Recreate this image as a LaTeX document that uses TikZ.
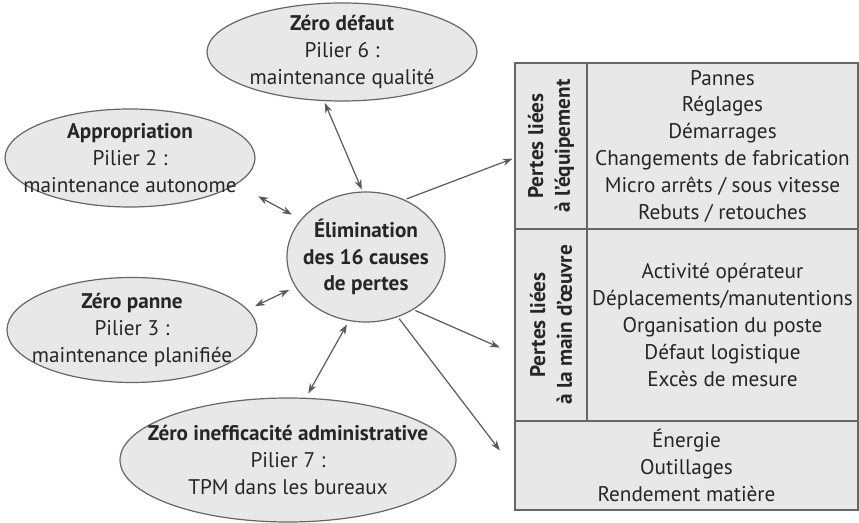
\documentclass[tikz,border=0pt]{standalone}
\usepackage{fontspec}
\setmainfont{PT Sans}
\usetikzlibrary{shapes.geometric,arrows.meta}

\tikzstyle{pilier} = [ellipse, draw=gray!80!black, fill=gray!18, text=black!85, align=center, inner xsep=-30pt, inner ysep=-15pt, font=\fontsize{10.6}{13.4}\selectfont]
\tikzstyle{case} = [rectangle, draw=gray!80!black, fill=gray!18, text=black!85, align=center, inner sep=0pt, font=\fontsize{10.6}{13.4}\selectfont]
\tikzstyle{titre} = [case, rotate=90, minimum height=36pt, font=\fontsize{10.6}{13.4}\selectfont\bfseries]
\tikzstyle{fleche} = [->, draw=gray!70!black, shorten <=1pt, shorten >=1pt]

\begin{document}
\begin{tikzpicture}[x=0.5pt,y=-0.5pt,>={Stealth[length=5pt,width=3.6pt]},semithick]
\useasboundingbox (0,0) rectangle (859,523);

% piliers
\node[pilier, minimum width=79pt, minimum height=65pt] (elim) at (366,257) {\bfseries Élimination\\\bfseries des 16 causes\\\bfseries de pertes};
\node[pilier, minimum width=135pt, minimum height=49pt] (defaut) at (342,52) {\bfseries Zéro défaut\\Pilier 6 :\\maintenance qualité};
\node[pilier, minimum width=125pt, minimum height=49pt] (appro) at (130,158) {\bfseries Appropriation\\Pilier 2 :\\maintenance autonome};
\node[pilier, minimum width=125pt, minimum height=52.5pt] (panne) at (132,330) {\bfseries Zéro panne\\Pilier 3 :\\maintenance planifiée};
\node[pilier, minimum width=168pt, minimum height=62pt] (ineff) at (288,460) {\bfseries Zéro inefficacité administrative\\Pilier 7 :\\TPM dans les bureaux};

% tableau des pertes
\node[titre, minimum width=83pt] (equip) at (551,146) {Pertes liées\\à l'équipement};
\node[case, minimum width=135.5pt, minimum height=83pt] (pannes) at (722.5,146) {Pannes\\Réglages\\Démarrages\\Changements de fabrication\\Micro arrêts / sous vitesse\\Rebuts / retouches};
\node[titre, minimum width=96pt] (main) at (551,325) {Pertes liées\\à la main d'œuvre};
\node[case, minimum width=135.5pt, minimum height=96pt] (activite) at (722.5,325) {Activité opérateur\\Déplacements/manutentions\\Organisation du poste\\Défaut logistique\\Excès de mesure};
\node[case, minimum width=171.5pt, minimum height=44.5pt] (energie) at (686.5,465.5) {Énergie\\Outillages\\Rendement matière};

\draw[fleche, <->] (defaut.-110) -- (elim.93);
\draw[fleche, <->, shorten <=12.5pt, shorten >=5pt] (appro.-14) -- (elim.150);
\draw[fleche, <->, shorten <=4pt, shorten >=3.4pt] (panne.10) -- (elim.-157);
\draw[fleche, <->, shorten <=2.5pt, shorten >=2pt] (ineff.74) -- (elim.-105);

\draw[fleche] (elim.56) -- ([yshift=-6pt]equip.north);
\draw[fleche, shorten >=8pt] (elim.-48) -- ([yshift=-14.5pt]main.north);
\draw[fleche, shorten >=12pt] (elim.-62) -- ([yshift=-2pt]energie.west);

\end{tikzpicture}
\end{document}
